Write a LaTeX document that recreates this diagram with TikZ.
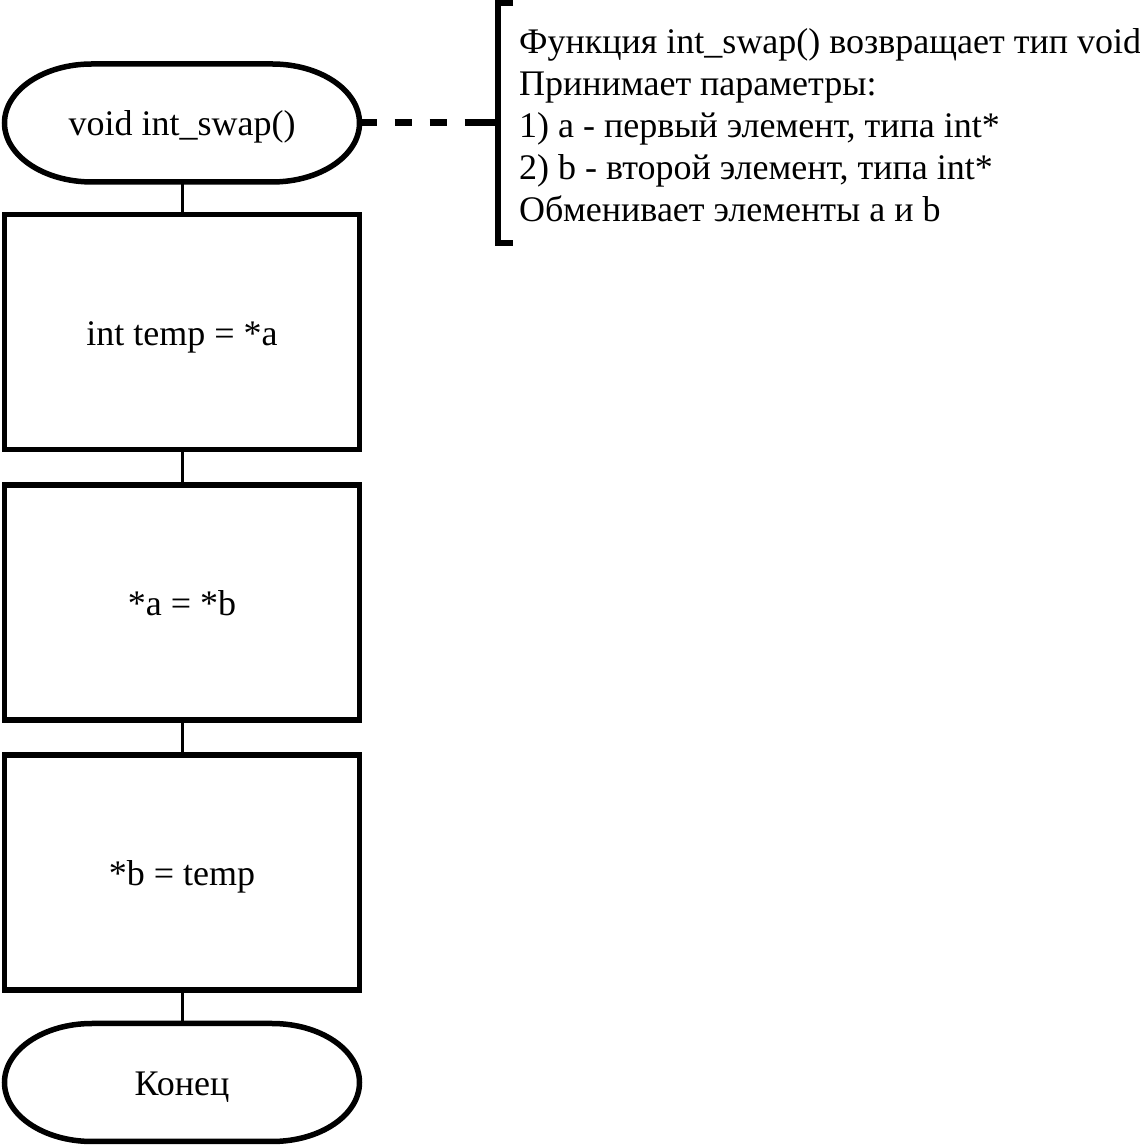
\documentclass[tikz,border=0pt]{standalone}
\usepackage{fontspec}
\setmainfont{Liberation Serif}
\newcommand\fs{\fontsize{36}{42}\selectfont}
\newcommand\termoutline[1]{%
  \draw[shapeline] ([xshift=87.5pt]#1.north west) -- ([xshift=-87.5pt]#1.north east)
    arc[start angle=90,end angle=-90,x radius=87.5pt,y radius=59pt]
    -- ([xshift=87.5pt]#1.south west)
    arc[start angle=270,end angle=90,x radius=87.5pt,y radius=59pt] -- cycle;}
\begin{document}
\begin{tikzpicture}[x=1pt,y=1pt,
  shapeline/.style={line width=5.5pt},
  procbox/.style={draw, line width=5.5pt, minimum width=355pt, minimum height=235pt,
    inner sep=0pt, outer sep=0pt, font=\fs, text height=27pt, text depth=0pt},
  termnode/.style={minimum width=355pt, minimum height=118pt, inner sep=0pt,
    outer sep=0pt, font=\fs, text height=26pt, text depth=0pt},
  link/.style={line width=3pt},
  dashlink/.style={line width=7pt,
    dash pattern=on 17pt off 18pt on 17pt off 18pt on 17pt off 18pt on 60pt off 10pt},
  bracketline/.style={line width=6pt, line join=miter},
  note/.style={anchor=base west, inner sep=0pt, font=\fs}
]
\useasboundingbox (0,0) rectangle (1140,1146);

\node[termnode] (start) at (182,1023) {void int\_swap()};
\termoutline{start}
\node[procbox] (r1) at (182,814) {int temp = *a};
\node[procbox] (r2) at (182,543.5) {*a = *b};
\node[procbox] (r3) at (182,273.5) {*b = temp};
\node[termnode] (end) at (182,63.5) {Конец};
\termoutline{end}

\draw[link] (start.south) -- (r1.north);
\draw[link] (r1.south) -- (r2.north);
\draw[link] (r2.south) -- (r3.north);
\draw[link] (r3.south) -- (end.north);

\coordinate (brk) at (498,1023);
\coordinate (brtop) at (498,1142.5);
\coordinate (brbot) at (498,903);
\draw[dashlink] (start.east) -- (brk);
\draw[bracketline] ([xshift=15pt]brtop) -- (brtop) -- (brbot) -- ([xshift=15pt]brbot);

\node[note] (n1) at (519,1092) {Функция int\_swap() возвращает тип void};
\node[note] (n2) at (519,1050) {Принимает параметры:};
\node[note] (n3) at (519,1008) {1) a - первый элемент, типа int*};
\node[note] (n4) at (519,966) {2) b - второй элемент, типа int*};
\node[note] (n5) at (519,924) {Обменивает элементы a и b};
\end{tikzpicture}
\end{document}
